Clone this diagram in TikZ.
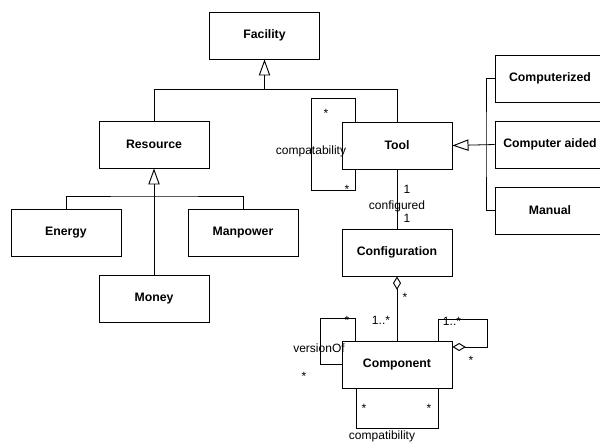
\documentclass[tikz,border=0pt]{standalone}
\usepackage{fontspec}
\setmainfont{Liberation Sans}
\usetikzlibrary{calc,arrows.meta}

\tikzset{
	umlclass/.style={draw, line width=0.7pt, minimum width=82.5pt, minimum height=35.25pt,
		inner sep=0pt, font=\fontsize{9.2}{11}\selectfont\bfseries},
	assoclabel/.style={inner sep=0pt, font=\fontsize{9}{11}\selectfont},
	link/.style={line width=0.6pt},
	gen/.style={link, -{Triangle[open, length=12pt, width=8.5pt, line width=0.7pt]}},
	aggr/.style={link, -{Diamond[open, length=10pt, width=6pt, line width=0.7pt]}}
}

\begin{document}
\begin{tikzpicture}[x=0.75pt,y=-0.75pt]
	\useasboundingbox (0,0) rectangle (600,444);
	
	% classes
	\node[umlclass] (facility) at (264.5,35.5) {Facility};
	\node[umlclass] (resource) at (154,144.5) {Resource};
	\node[umlclass] (energy) at (66,232.5) {Energy};
	\node[umlclass] (manpower) at (243,232.5) {Manpower};
	\node[umlclass] (money) at (154,298.5) {Money};
	\node[umlclass] (tool) at (397,145.5) {Tool};
	\node[umlclass] (computerized) at (550,78.5) {Computerized};
	\node[umlclass] (aided) at (550,144.5) {Computer aided};
	\node[umlclass] (manual) at (550,210.5) {Manual};
	\node[umlclass] (config) at (397,252.5) {Configuration};
	\node[umlclass] (component) at (397,364.5) {Component};
	
	% inheritance
	\coordinate (facJoin) at (264.5,89);
	\draw[link] (resource.north) |- (facJoin);
	\draw[link] (tool.north) |- (facJoin);
	\draw[gen] (facJoin) -- (facility.south);
	
	\coordinate (resJoin) at (154,196);
	\draw[link] (energy.north) |- (resJoin) -| (manpower.north);
	\draw[gen] (money.north) -- (resource.south);
	
	\coordinate (toolJoin) at (486,144.5);
	\draw[link] (computerized.west) -| (toolJoin) |- (manual.west);
	\draw[gen] (aided.west) -- (tool.east);
	
	% compatability (self association of tool)
	\draw[link] ($(tool.north)+(-42,0)$) |- ++(-44,-23) |- ($(tool.south)+(-42,21)$) -- ($(tool.south)+(-42,0)$);
	\node[assoclabel] (toolStarA) at (326,113) {*};
	\node[assoclabel] (toolStarB) at (347,189) {*};
	\node[assoclabel] (toolCompat) at (311,151) {compatability};
	
	% configured
	\draw[link] (tool.south) -- (config.north);
	\node[assoclabel] (toolOne) at (407,189) {1};
	\node[assoclabel] (configured) at (397,206) {configured};
	\node[assoclabel] (configOne) at (407,218) {1};
	
	% configuration consists of components
	\draw[aggr] (component.north) -- (config.south);
	\node[assoclabel] (configStar) at (405,297) {*};
	\node[assoclabel] (compMany) at (381,320) {1..*};
	
	% versionOf
	\draw[link] ($(component.north)+(-42,0)$) |- ++(-35,-22) |- ($(component.west)+(0,0)$);
	\node[assoclabel] (versionStarA) at (347,320) {*};
	\node[assoclabel] (versionOf) at (319,348) {versionOf};
	\node[assoclabel] (versionStarB) at (304,376) {*};
	
	% part of (self aggregation)
	\coordinate (partCorner) at (487,319);
	\draw[aggr] ($(component.north)+(41,0)$) |- (partCorner) |- ($(component.east)+(0,-17.5)$);
	\node[assoclabel] (partMany) at (452,321) {1..*};
	\node[assoclabel] (partStar) at (471,360) {*};
	
	% compatibility (self association of component)
	\draw[link] ($(component.south)+(-41,0)$) |- ++(82,40) -- ($(component.south)+(41,0)$);
	\node[assoclabel] (compStarA) at (364,408) {*};
	\node[assoclabel] (compStarB) at (429,408) {*};
	\node[assoclabel] (compCompat) at (382,436) {compatibility};
	
\end{tikzpicture}
\end{document}
